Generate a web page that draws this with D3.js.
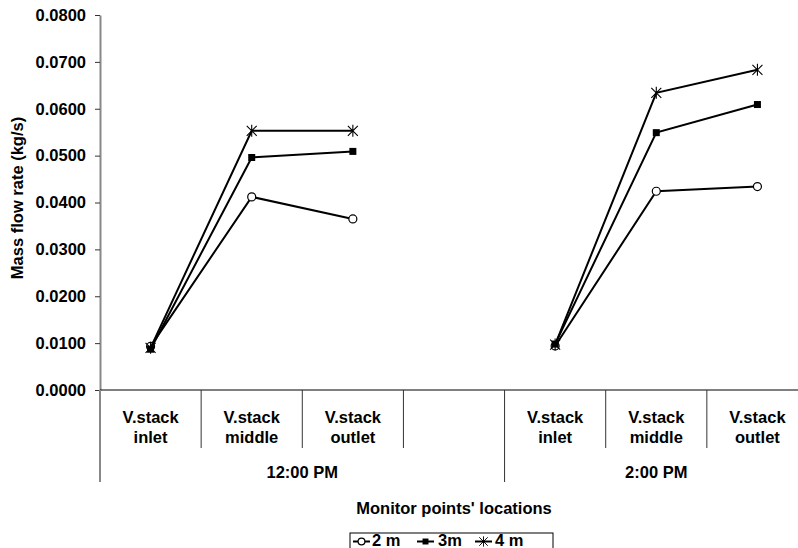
<!DOCTYPE html>
<html lang="en">
  <head>
    <meta charset="UTF-8" />
    <title>Mass flow rate by monitor point</title>
    <script src="https://d3js.org/d3.v7.min.js"></script>
    <style>
      body {
        margin: 0;
        background: #fff;
      }
      text {
        font-family: "Liberation Sans", Arial, sans-serif;
        font-weight: bold;
        font-size: 16.5px;
        fill: #000;
      }
    </style>
  </head>
  <body>
    <svg id="chart"></svg>
    <script>
      // chart data
      const times = ["12:00 PM", "2:00 PM"];
      const locations = [["V.stack", "inlet"], ["V.stack", "middle"], ["V.stack", "outlet"]];
      // 7 slots: 3 points at 12:00, empty gap, 3 points at 2:00
      const slots = ["in1", "mid1", "out1", "gap", "in2", "mid2", "out2"];
      const slotLabels = [locations[0], locations[1], locations[2], null, locations[0], locations[1], locations[2]];
      const flow2m = [0.0093, 0.0412, 0.0365, null, 0.0094, 0.0424, 0.0434];
      const flow3m = [0.0087, 0.0496, 0.0509, null, 0.0098, 0.0549, 0.0609];
      const flow4m = [0.009, 0.0553, 0.0553, null, 0.0097, 0.0634, 0.0683];
      const seriesNames = ["2 m", "3m", "4 m"];
      const yTicks = [0, 0.01, 0.02, 0.03, 0.04, 0.05, 0.06, 0.07, 0.08];

      const width = 798;
      const height = 548;
      const margin = { top: 15, right: -10, bottom: 158, left: 100 };

      const svg = d3.select("#chart").attr("width", width).attr("height", height);

      const x = d3
        .scaleBand()
        .domain(slots)
        .range([margin.left, width - margin.right]);

      const y = d3
        .scaleLinear()
        .domain([0, 0.08])
        .range([height - margin.bottom, margin.top]);

      // y axis
      const yAxis = svg
        .append("g")
        .attr("transform", `translate(${margin.left},0)`)
        .call(
          d3.axisLeft(y).tickValues(yTicks).tickSize(5).tickSizeOuter(0).tickPadding(9).tickFormat(d3.format(".4f"))
        );
      yAxis.select(".domain").attr("stroke", "#888").attr("stroke-width", 2);
      yAxis.selectAll(".tick line").attr("stroke", "#333");
      yAxis.attr("font-size", null).attr("font-family", null);

      // x axis baseline
      const y0 = y(0);
      svg
        .append("line")
        .attr("x1", margin.left)
        .attr("x2", width - margin.right)
        .attr("y1", y0)
        .attr("y2", y0)
        .attr("stroke", "#000");

      // category separators
      const groupStarts = [0, 4];
      slots.forEach((s, i) => {
        const xs = x(s);
        const long = groupStarts.includes(i);
        svg
          .append("line")
          .attr("x1", xs)
          .attr("x2", xs)
          .attr("y1", y0)
          .attr("y2", long ? 482 : 448)
          .attr("stroke", i === 0 ? "#888" : "#333")
          .attr("stroke-width", i === 0 ? 2 : 1);
      });
      svg
        .append("line")
        .attr("x1", x.range()[1])
        .attr("x2", x.range()[1])
        .attr("y1", y0)
        .attr("y2", 482)
        .attr("stroke", "#333");

      // category labels
      slotLabels.forEach((lab, i) => {
        if (!lab) return;
        const cx = x(slots[i]) + x.bandwidth() / 2;
        const t = svg.append("text").attr("text-anchor", "middle");
        t.append("tspan").attr("x", cx).attr("y", 423).text(lab[0]);
        t.append("tspan").attr("x", cx).attr("y", 443).text(lab[1]);
      });

      // group labels
      times.forEach((tm, g) => {
        const a = x(slots[groupStarts[g]]);
        const b = g === 0 ? x(slots[4]) : x.range()[1];
        svg
          .append("text")
          .attr("x", (a + b) / 2)
          .attr("y", 478)
          .attr("text-anchor", "middle")
          .text(tm);
      });

      // axis titles
      svg
        .append("text")
        .attr("x", (x.range()[0] + x.range()[1]) / 2)
        .attr("y", 514)
        .attr("text-anchor", "middle")
        .text("Monitor points' locations");

      svg
        .append("text")
        .attr("transform", `translate(23,198) rotate(-90)`)
        .attr("text-anchor", "middle")
        .text("Mass flow rate (kg/s)");

      // markers
      const star = "M-5,-5L5,5M-5,5L5,-5M0,-6L0,6";
      function drawMarker(g, kind, cx, cy, scale) {
        const s = scale || 1;
        if (kind === 0) {
          g.append("circle")
            .attr("cx", cx)
            .attr("cy", cy)
            .attr("r", 4 * s)
            .attr("fill", "#fff")
            .attr("stroke", "#000")
            .attr("stroke-width", 1.2);
        } else if (kind === 1) {
          g.append("rect")
            .attr("x", cx - 3.5 * s)
            .attr("y", cy - 3.5 * s)
            .attr("width", 7 * s)
            .attr("height", 7 * s)
            .attr("fill", "#000");
        } else {
          g.append("path")
            .attr("d", star)
            .attr("transform", `translate(${cx},${cy}) scale(${s})`)
            .attr("fill", "none")
            .attr("stroke", "#000")
            .attr("stroke-width", 1.1);
        }
      }

      // lines
      const series = [flow2m, flow3m, flow4m];
      const cxOf = (i) => x(slots[i]) + x.bandwidth() / 2;
      const line = d3
        .line()
        .defined((d) => d != null)
        .x((d, i) => cxOf(i))
        .y((d) => y(d));

      series.forEach((vals, k) => {
        const g = svg.append("g");
        g.append("path")
          .attr("d", line(vals))
          .attr("fill", "none")
          .attr("stroke", "#000")
          .attr("stroke-width", 2);
        vals.forEach((v, i) => {
          if (v == null) return;
          drawMarker(g, k, cxOf(i), y(v));
        });
      });

      // legend
      const legend = svg.append("g");
      legend
        .append("rect")
        .attr("x", 350)
        .attr("y", 533)
        .attr("width", 203)
        .attr("height", 30)
        .attr("fill", "#fff")
        .attr("stroke", "#000");
      const legendX = [353, 417, 475];
      const textX = [372, 438, 495];
      seriesNames.forEach((name, k) => {
        const lx = legendX[k];
        legend
          .append("line")
          .attr("x1", lx)
          .attr("x2", lx + 17)
          .attr("y1", 541.5)
          .attr("y2", 541.5)
          .attr("stroke", "#000")
          .attr("stroke-width", 2);
        drawMarker(legend, k, lx + 8.5, 541.5, 0.85);
        legend.append("text").attr("x", textX[k]).attr("y", 546).text(name);
      });
    </script>
  </body>
</html>
